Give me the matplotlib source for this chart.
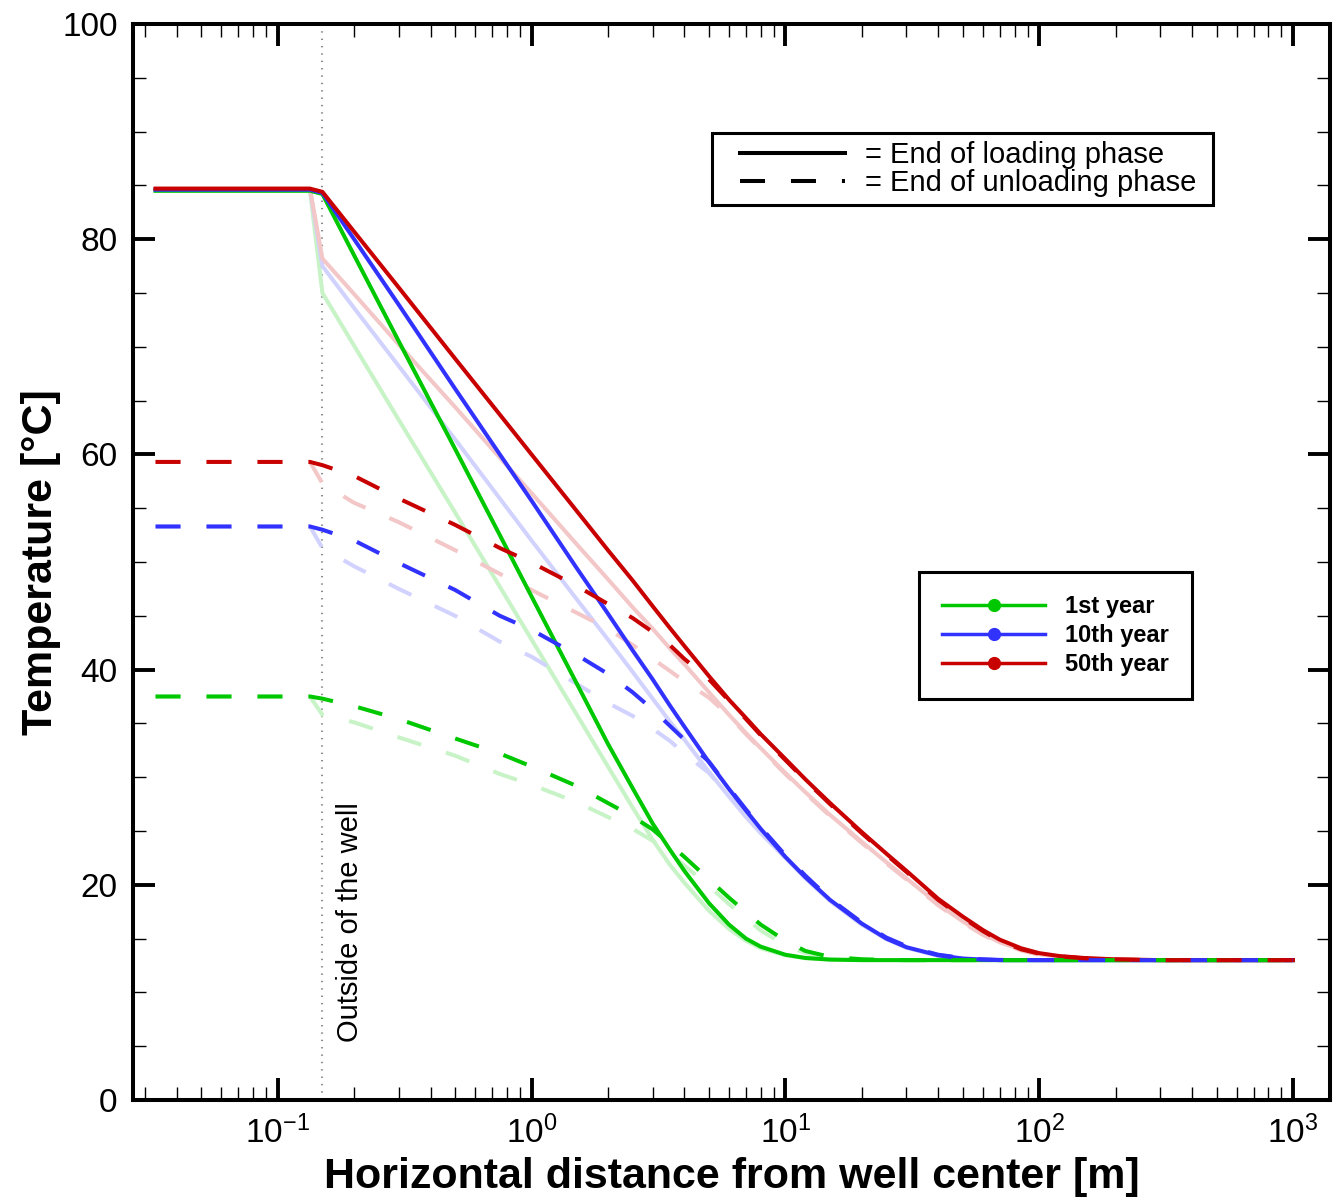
import matplotlib
matplotlib.use("Agg")
import matplotlib.pyplot as plt
from matplotlib.lines import Line2D
from matplotlib.patches import Rectangle
from matplotlib.ticker import LogLocator, MultipleLocator, NullFormatter

plt.rcParams['font.family'] = ['Liberation Sans', 'DejaVu Sans']
plt.rcParams['mathtext.fontset'] = 'custom'
plt.rcParams['mathtext.rm'] = 'Liberation Sans'
plt.rcParams['mathtext.it'] = 'Liberation Sans'
plt.rcParams['mathtext.bf'] = 'Liberation Sans:bold'
plt.rcParams['lines.scale_dashes'] = False

# ---------------------------------------------------------------- data
# radial distance from the well centre [m]
distance_m = [0.033, 0.134, 0.15, 0.2, 0.3, 0.5, 0.75, 1, 1.5, 2, 2.5, 3, 3.5, 4, 5, 6, 7, 8,
              10, 12, 15, 20, 25, 30, 40, 50, 60, 70, 85, 100, 120, 150, 200, 300, 1000]
well_radius_m = 0.15

year_labels = ["1st year", "10th year", "50th year"]

# temperature [°C] at the end of the loading phase
t_load_1 = [84.5, 84.5, 84.2, 78.5, 70.5, 60.5, 52.5, 46.8, 38.8, 33.1, 29.0, 25.7, 23.3,
            21.3, 18.3, 16.3, 15.0, 14.25, 13.5, 13.2, 13.05, 13.0, 13.0, 13.0, 13.0, 13.0,
            13.0, 13.0, 13.0, 13.0, 13.0, 13.0, 13.0, 13.0, 13.0]
t_load_10 = [84.6, 84.6, 84.3, 80.0, 73.9, 66.1, 60.0, 55.7, 49.5, 45.2, 41.8, 39.1, 36.7,
             34.7, 31.4, 28.9, 26.9, 25.2, 22.6, 20.7, 18.6, 16.4, 15.0, 14.2, 13.45, 13.15,
             13.05, 13.0, 13.0, 13.0, 13.0, 13.0, 13.0, 13.0, 13.0]
t_load_50 = [84.7, 84.7, 84.4, 80.7, 75.5, 68.9, 63.7, 60.0, 54.8, 51.1, 48.3, 45.9, 43.9,
             42.2, 39.4, 37.2, 35.5, 34.0, 31.7, 29.8, 27.6, 24.9, 22.9, 21.3, 18.7, 17.05,
             15.8, 14.9, 14.1, 13.65, 13.38, 13.2, 13.07, 13.0, 13.0]

# temperature [°C] at the end of the unloading phase
t_unload_1 = [37.5, 37.5, 37.3, 36.6, 35.4, 33.6, 32.2, 31.0, 29.2, 27.6, 26.35, 25.15, 23.8,
              22.6, 20.5, 18.8, 17.45, 16.3, 14.8, 13.85, 13.3, 13.08, 13.02, 13.0, 13.0,
              13.0, 13.0, 13.0, 13.0, 13.0, 13.0, 13.0, 13.0, 13.0, 13.0]
t_unload_10 = [53.3, 53.3, 53.0, 52.0, 49.9, 47.4, 45.0, 43.7, 41.4, 39.6, 37.9, 36.3, 34.8,
               33.5, 31.45, 29.0, 27.0, 25.35, 22.75, 20.85, 18.7, 16.5, 15.1, 14.3, 13.5,
               13.2, 13.07, 13.02, 13.0, 13.0, 13.0, 13.0, 13.0, 13.0, 13.0]
t_unload_50 = [59.3, 59.3, 59.0, 58.0, 55.9, 53.45, 51.3, 49.95, 47.8, 46.1, 44.8, 43.5, 42.3,
               41.0, 39.1, 37.1, 35.4, 33.9, 31.6, 29.7, 27.5, 24.8, 22.8, 21.2, 18.6, 16.95,
               15.7, 14.8, 14.0, 13.6, 13.35, 13.17, 13.06, 13.0, 13.0]

# comparison case (pale curves), loading phase
t_load_1_cmp = [84.5, 84.5, 75.0, 70.1, 63.2, 54.6, 47.7, 42.8, 35.9, 31.0, 27.2, 24.2, 21.9,
                20.2, 17.6, 15.9, 14.8, 14.1, 13.45, 13.18, 13.05, 13.0, 13.0, 13.0, 13.0,
                13.0, 13.0, 13.0, 13.0, 13.0, 13.0, 13.0, 13.0, 13.0, 13.0]
t_load_10_cmp = [84.6, 84.6, 77.5, 73.6, 68.2, 61.4, 55.9, 52.0, 46.6, 42.8, 39.8, 37.3, 35.2,
                 33.5, 30.5, 28.2, 26.3, 24.8, 22.5, 20.6, 18.5, 16.3, 14.95, 14.15, 13.4,
                 13.12, 13.04, 13.0, 13.0, 13.0, 13.0, 13.0, 13.0, 13.0, 13.0]
t_load_50_cmp = [84.7, 84.7, 78.2, 74.9, 70.2, 64.4, 59.7, 56.4, 51.7, 48.4, 45.8, 43.8, 42.0,
                 40.5, 37.9, 35.8, 34.1, 32.7, 30.4, 28.6, 26.5, 24.0, 22.1, 20.6, 18.2, 16.6,
                 15.45, 14.65, 13.95, 13.55, 13.3, 13.15, 13.05, 13.0, 13.0]

# comparison case (pale curves), unloading phase
t_unload_1_cmp = [37.5, 37.5, 35.8, 35.1, 33.7, 32.0, 30.3, 29.3, 27.7, 26.3, 25.2, 24.1, 22.9,
                  21.8, 19.9, 18.2, 16.9, 15.75, 14.4, 13.65, 13.22, 13.05, 13.0, 13.0, 13.0,
                  13.0, 13.0, 13.0, 13.0, 13.0, 13.0, 13.0, 13.0, 13.0, 13.0]
t_unload_10_cmp = [53.3, 53.3, 51.3, 49.6, 47.5, 45.0, 42.6, 41.2, 38.7, 36.9, 35.7, 34.5, 33.4,
                   32.2, 30.4, 28.3, 26.4, 24.9, 22.6, 20.7, 18.6, 16.4, 15.05, 14.25, 13.5,
                   13.17, 13.06, 13.0, 13.0, 13.0, 13.0, 13.0, 13.0, 13.0, 13.0]
t_unload_50_cmp = [59.3, 59.3, 57.3, 55.5, 53.7, 51.1, 48.9, 47.4, 45.3, 43.8, 42.3, 41.0, 39.9,
                   38.9, 37.4, 35.7, 34.0, 32.6, 30.3, 28.5, 26.4, 23.9, 22.0, 20.5, 18.1, 16.5,
                   15.35, 14.6, 13.9, 13.5, 13.28, 13.14, 13.05, 13.0, 13.0]

# ---------------------------------------------------------------- styles
colors = ['#00C800', '#3232FF', '#C80000']
pale_colors = ['#C7F3C7', '#D2D2FF', '#F3C7C7']
LW = 2.9
DASH = (0, (18, 18.7))

load = [t_load_1, t_load_10, t_load_50]
unload = [t_unload_1, t_unload_10, t_unload_50]
load_cmp = [t_load_1_cmp, t_load_10_cmp, t_load_50_cmp]
unload_cmp = [t_unload_1_cmp, t_unload_10_cmp, t_unload_50_cmp]

fig = plt.figure(figsize=(13.44, 12.03), dpi=100)
ax = fig.add_axes([133 / 1344, 1 - 1100 / 1203, 1197 / 1344, 1076 / 1203])

# pale comparison curves underneath
for i in range(3):
    ax.plot(distance_m, load_cmp[i], color=pale_colors[i], lw=LW, zorder=2)
    ax.plot(distance_m, unload_cmp[i], color=pale_colors[i], lw=LW, ls=DASH, zorder=2)

# main curves
for i in range(3):
    ax.plot(distance_m, load[i], color=colors[i], lw=LW, zorder=3)
for i in range(3):
    ax.plot(distance_m, unload[i], color=colors[i], lw=LW, ls=DASH, zorder=4)

# well boundary
ax.axvline(well_radius_m, color='0.55', lw=1.5, ls=(0, (1, 4.3)), zorder=1)
ax.text(0.169, 5.4, 'Outside of the well', rotation=90, fontsize=21,
        ha='left', va='bottom')

# axes
ax.set_xscale('log')
ax.set_xlim(0.0269, 1400)
ax.set_ylim(0, 100)
ax.yaxis.set_major_locator(MultipleLocator(20))
ax.yaxis.set_minor_locator(MultipleLocator(5))
ax.xaxis.set_major_locator(LogLocator(base=10, numticks=20))
ax.xaxis.set_minor_locator(LogLocator(base=10, subs=range(2, 10), numticks=20))
ax.xaxis.set_minor_formatter(NullFormatter())
ax.tick_params(which='both', direction='in', top=True, right=True, labelsize=24)
ax.tick_params(which='major', length=15.5, width=2.8, pad=11)
ax.tick_params(which='minor', length=9.5, width=1.0)
for s in ax.spines.values():
    s.set_linewidth(2.9)

ax.set_xlabel('Horizontal distance from well center [m]', fontsize=31,
              fontweight='bold', labelpad=5)
ax.set_ylabel('Temperature [°C]', fontsize=31, fontweight='bold', labelpad=1)

# phase legend (line style)
style_handles = [Line2D([], [], color='black', lw=LW),
                 Line2D([], [], color='black', lw=LW, ls=DASH)]
leg1 = ax.legend(style_handles, ['= End of loading phase', '= End of unloading phase'],
                 loc='center', bbox_to_anchor=(0.698, 0.8653), frameon=False,
                 fontsize=21, handlelength=3.6, handletextpad=0.68,
                 borderpad=0.0, labelspacing=0.0)
ax.add_artist(leg1)
ax.add_patch(Rectangle((0.4837, 0.8318), 0.4186, 0.0669, transform=ax.transAxes,
                       facecolor='white', edgecolor='black', lw=2.2, zorder=4.9))

# year legend (colour)
year_handles = [Line2D([], [], color=c, lw=2.5, marker='o', ms=8.5) for c in colors]
leg2 = ax.legend(year_handles, year_labels, loc='center',
                 bbox_to_anchor=(0.7707, 0.4317), prop={'weight': 'bold', 'size': 17},
                 handlelength=4.35, handletextpad=0.85, borderpad=0.98,
                 labelspacing=0.25, numpoints=1, frameon=True, fancybox=False,
                 framealpha=1, edgecolor='black')
leg2.get_frame().set_linewidth(2.2)

fig.savefig('out.png', dpi=100)
